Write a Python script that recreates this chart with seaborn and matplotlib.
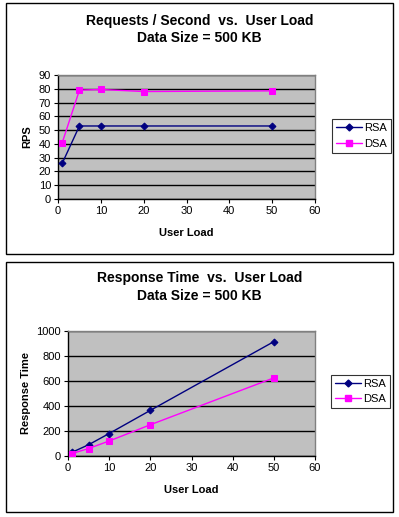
import matplotlib
matplotlib.use("Agg")
import matplotlib.pyplot as plt
from matplotlib.patches import Rectangle
from matplotlib.lines import Line2D
import pandas as pd
import seaborn as sns

# ─── Data ────────────────────────────────────────────────────────────────────
user_load = [1, 5, 10, 20, 50]
rps_rsa = [26, 53, 53, 53, 53]
rps_dsa = [41, 79, 79.5, 78, 78.5]
rt_rsa = [30, 90, 180, 365, 915]
rt_dsa = [20, 60, 120, 250, 625]
series_names = ["RSA", "DSA"]
x_ticks = [0, 10, 20, 30, 40, 50, 60]
rps_ticks = [0, 10, 20, 30, 40, 50, 60, 70, 80, 90]
rt_ticks = [0, 200, 400, 600, 800, 1000]

colors = {"RSA": "#000080", "DSA": "#FF00FF"}
markers = {"RSA": "D", "DSA": "s"}
msizes = {"RSA": 3.5, "DSA": 4.5}

W, H = 399, 517

sns.set_style("white")
plt.rcParams["font.family"] = ["Liberation Sans", "DejaVu Sans"]
plt.rcParams["text.color"] = "black"

fig = plt.figure(figsize=(W / 100, H / 100), dpi=100)
fig.patch.set_facecolor("white")


def px_axes(x0, y0, x1, y1):
    # pixel box (top-left origin) -> figure fraction axes
    return fig.add_axes([x0 / W, 1 - y1 / H, (x1 - x0) / W, (y1 - y0) / H])


def frame(x0, y0, x1, y1):
    fig.patches.append(Rectangle((x0 / W, 1 - y1 / H), (x1 - x0) / W, (y1 - y0) / H,
                                 transform=fig.transFigure, fill=False,
                                 edgecolor="black", linewidth=1.0))


def draw_chart(ax, a, b, yname, yticks, ylabel, title_lines, title_y, xlabel_y, ylabel_x,
               legend_box):
    df = pd.DataFrame({
        "load": user_load * 2,
        yname: a + b,
        "series": ["RSA"] * len(a) + ["DSA"] * len(b),
    })
    for name in series_names:
        sub = df[df["series"] == name]
        sns.lineplot(data=sub, x="load", y=yname, color=colors[name], marker=markers[name],
                     markersize=msizes[name], markeredgecolor=colors[name],
                     linewidth=1.0, ax=ax, legend=False, zorder=3)
    ax.set_facecolor("#C0C0C0")
    ax.set_xlim(0, 60)
    ax.set_ylim(yticks[0], yticks[-1])
    ax.set_xticks(x_ticks)
    ax.set_yticks(yticks)
    ax.yaxis.grid(True, color="black", linewidth=1.0)
    ax.xaxis.grid(False)
    ax.set_axisbelow(True)
    for side in ["top", "right"]:
        ax.spines[side].set_color("#808080")
        ax.spines[side].set_linewidth(1.0)
    for side in ["left", "bottom"]:
        ax.spines[side].set_color("black")
        ax.spines[side].set_linewidth(1.0)
    ax.tick_params(axis="both", direction="out", length=3, width=0.8, labelsize=8,
                   pad=2, bottom=True, left=True, colors="black", labelcolor="black")
    ax.set_xlabel("")
    ax.set_ylabel("")

    cx = 0.5 * (6 + 393) / W
    for line, ty in zip(title_lines, title_y):
        fig.text(cx, 1 - ty / H, line, ha="center", va="center",
                 fontsize=10, fontweight="bold")
    pos = ax.get_position()
    fig.text((pos.x0 + pos.x1) / 2, 1 - xlabel_y / H, "User Load", ha="center",
             va="center", fontsize=8, fontweight="bold")
    fig.text(ylabel_x / W, (pos.y0 + pos.y1) / 2, ylabel, ha="center", va="center",
             rotation=90, fontsize=8, fontweight="bold")

    handles = [Line2D([0], [0], color=colors[n], marker=markers[n], markersize=msizes[n],
                      linewidth=1.0) for n in series_names]
    lx0, ly0, lx1, ly1 = legend_box
    leg = fig.legend(handles, series_names, loc="center",
                     bbox_to_anchor=((lx0 + lx1) / 2 / W, 1 - (ly0 + ly1) / 2 / H),
                     fontsize=8, frameon=True, fancybox=False, handlelength=2.3,
                     handletextpad=0.2, borderpad=0.35, borderaxespad=0,
                     labelspacing=0.5)
    leg.get_frame().set_edgecolor("black")
    leg.get_frame().set_linewidth(0.8)


# ─── Top chart: requests per second ─────────────────────────────────────────
frame(6, 3, 393, 254)
ax1 = px_axes(58, 75, 315, 199)
draw_chart(ax1, rps_rsa, rps_dsa, "rps", rps_ticks, "RPS",
           ["Requests / Second  vs.  User Load", "Data Size = 500 KB"],
           (21, 38), 233, 27, (333, 118, 390, 154))

# ─── Bottom chart: response time ────────────────────────────────────────────
frame(6, 262, 393, 512)
ax2 = px_axes(68, 331, 315, 456)
draw_chart(ax2, rt_rsa, rt_dsa, "rt", rt_ticks, "Response Time",
           ["Response Time  vs.  User Load", "Data Size = 500 KB"],
           (278, 296), 490, 26, (332, 372, 389, 411))

plt.savefig("out.png", dpi=100)
plt.close()
